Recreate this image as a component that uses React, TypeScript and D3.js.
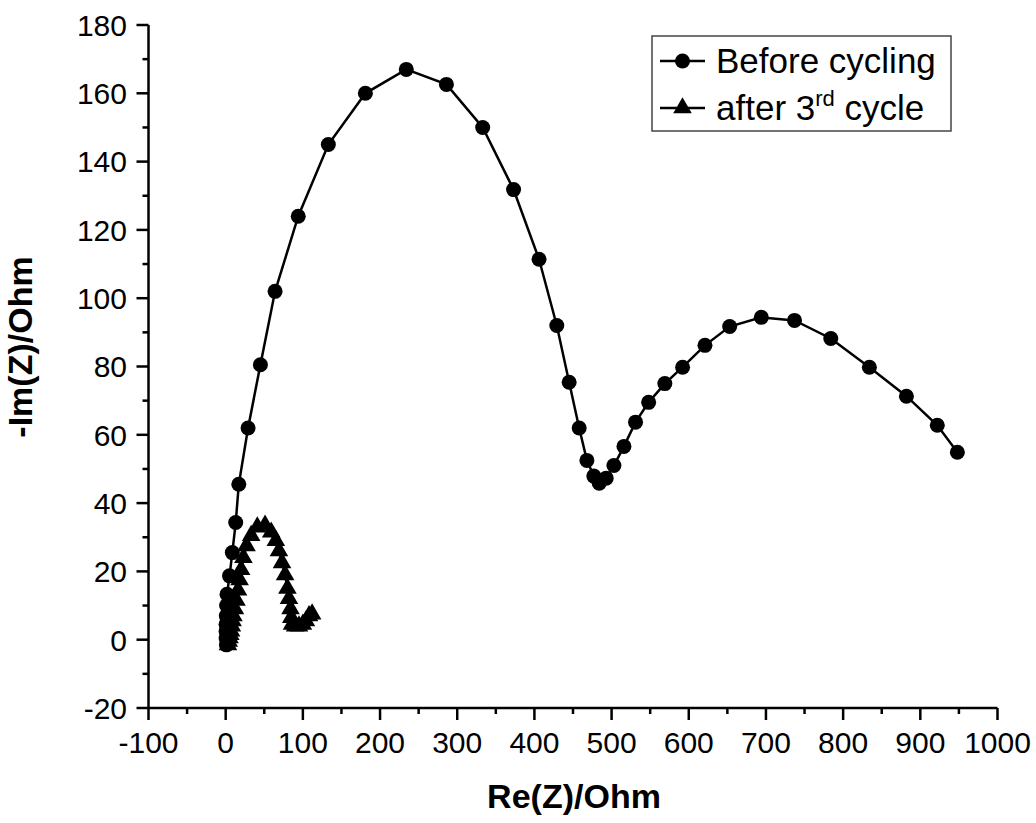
import React from "react";
import * as d3 from "d3";

const beforeRe = [1, 0.5, 0.5, 0.5, 0.8, 1.2, 1.7, 5, 8.6, 13, 17, 29, 45, 64, 94, 133, 181, 234, 286, 333, 373, 406, 429, 445, 458, 468, 477, 484, 493, 503, 516, 531, 548, 569, 592, 621, 653, 694, 737, 784, 834, 882, 922, 948];
const beforeIm = [-1.5, 0.5, 2.5, 4.5, 7, 10, 13.3, 18.7, 25.5, 34.3, 45.5, 62, 80.5, 102, 124, 145, 160, 167, 162.6, 150, 131.8, 111.4, 92, 75.4, 62, 52.5, 47.9, 45.8, 47.3, 51, 56.6, 63.7, 69.5, 75, 79.8, 86.2, 91.7, 94.4, 93.5, 88.2, 79.8, 71.3, 62.8, 54.9];

const afterRe = [3, 4, 5, 6, 7, 8, 9, 10, 12, 14, 16, 18, 20, 23, 27, 33, 41, 51, 59, 65, 69, 73, 77, 80, 82, 84, 85, 86, 90, 95, 100, 104, 108, 112];
const afterIm = [-1.5, -0.5, 0.5, 1.5, 2.5, 4, 5.5, 7, 9, 11.5, 14.5, 17.5, 20.5, 24, 27.5, 30.5, 33, 33.5, 31.5, 29, 26, 22.5, 19, 15, 12, 9, 6.5, 4.5, 4, 4, 4.5, 5.5, 7, 7.5];

const xTicks = [-100, 0, 100, 200, 300, 400, 500, 600, 700, 800, 900, 1000];
const yTicks = [-20, 0, 20, 40, 60, 80, 100, 120, 140, 160, 180];

const seriesNames = ["Before cycling", "after 3"];

const W = 1036;
const H = 823;
const FONT = "'Liberation Sans', Arial, sans-serif";

export default function App() {
  const x = d3.scaleLinear().domain([-100, 1000]).range([148.5, 997.5]);
  const y = d3.scaleLinear().domain([-20, 180]).range([708, 25]);

  const xMinor = d3.range(-100, 1001, 50).filter((v) => !xTicks.includes(v));
  const yMinor = d3.range(-20, 181, 10).filter((v) => !yTicks.includes(v));

  const before = beforeRe.map((v, i) => [v, beforeIm[i]] as [number, number]);
  const after = afterRe.map((v, i) => [v, afterIm[i]] as [number, number]);

  const line = d3
    .line<[number, number]>()
    .x((d) => x(d[0]))
    .y((d) => y(d[1]));

  const tri = d3.symbol().type(d3.symbolTriangle).size(150)();
  const triPath = tri || "";

  const axisStroke = 2.5;

  return (
    <svg
      width={W}
      height={H}
      style={{ position: "absolute", left: 0, top: 0, background: "#fff" }}
      fontFamily={FONT}
    >
      <rect x={0} y={0} width={W} height={H} fill="#fff" />
      {/* series lines */}
      <path d={line(before) || ""} fill="none" stroke="#000" strokeWidth={2.5} />
      <path d={line(after) || ""} fill="none" stroke="#000" strokeWidth={2.5} />
      {before.map((d, i) => (
        <circle key={"c" + i} cx={x(d[0])} cy={y(d[1])} r={7.5} fill="#000" />
      ))}
      {after.map((d, i) => (
        <path key={"t" + i} d={triPath} transform={`translate(${x(d[0])},${y(d[1])})`} fill="#000" />
      ))}

      {/* axes */}
      <line x1={x(-100)} x2={x(1000)} y1={y(-20)} y2={y(-20)} stroke="#000" strokeWidth={axisStroke} />
      <line x1={x(-100)} x2={x(-100)} y1={y(-20)} y2={y(180)} stroke="#000" strokeWidth={axisStroke} />
      {xTicks.map((t) => (
        <g key={"xt" + t}>
          <line x1={x(t)} x2={x(t)} y1={y(-20)} y2={y(-20) + 12} stroke="#000" strokeWidth={axisStroke} />
          <text x={x(t)} y={753} textAnchor="middle" fontSize={30} fill="#000">
            {t}
          </text>
        </g>
      ))}
      {xMinor.map((t) => (
        <line key={"xm" + t} x1={x(t)} x2={x(t)} y1={y(-20)} y2={y(-20) + 6} stroke="#000" strokeWidth={axisStroke} />
      ))}
      {yTicks.map((t) => (
        <g key={"yt" + t}>
          <line x1={x(-100)} x2={x(-100) - 12} y1={y(t)} y2={y(t)} stroke="#000" strokeWidth={axisStroke} />
          <text x={127} y={y(t) + 10.8} textAnchor="end" fontSize={30} fill="#000">
            {t}
          </text>
        </g>
      ))}
      {yMinor.map((t) => (
        <line key={"ym" + t} x1={x(-100)} x2={x(-100) - 6} y1={y(t)} y2={y(t)} stroke="#000" strokeWidth={axisStroke} />
      ))}

      {/* axis titles */}
      <text x={574} y={808} textAnchor="middle" fontSize={34} fontWeight="bold" fill="#000">
        Re(Z)/Ohm
      </text>
      <text
        transform={`translate(32,347) rotate(-90)`}
        textAnchor="middle"
        fontSize={34}
        fontWeight="bold"
        fill="#000"
      >
        -Im(Z)/Ohm
      </text>

      {/* legend */}
      <rect x={652} y={36} width={299} height={95} fill="#fff" stroke="#444" strokeWidth={1.5} />
      <line x1={660} x2={705} y1={61} y2={61} stroke="#000" strokeWidth={2.5} />
      <circle cx={682.5} cy={61} r={7.5} fill="#000" />
      <text x={716} y={73} fontSize={35} fill="#000">
        {seriesNames[0]}
      </text>
      <line x1={660} x2={705} y1={108} y2={108} stroke="#000" strokeWidth={2.5} />
      <path d={triPath} transform={`translate(682.5,108)`} fill="#000" />
      <text x={716} y={120} fontSize={35} fill="#000">
        {seriesNames[1]}
        <tspan fontSize={22} dy={-14}>rd</tspan>
        <tspan dy={14}> cycle</tspan>
      </text>
    </svg>
  );
}
